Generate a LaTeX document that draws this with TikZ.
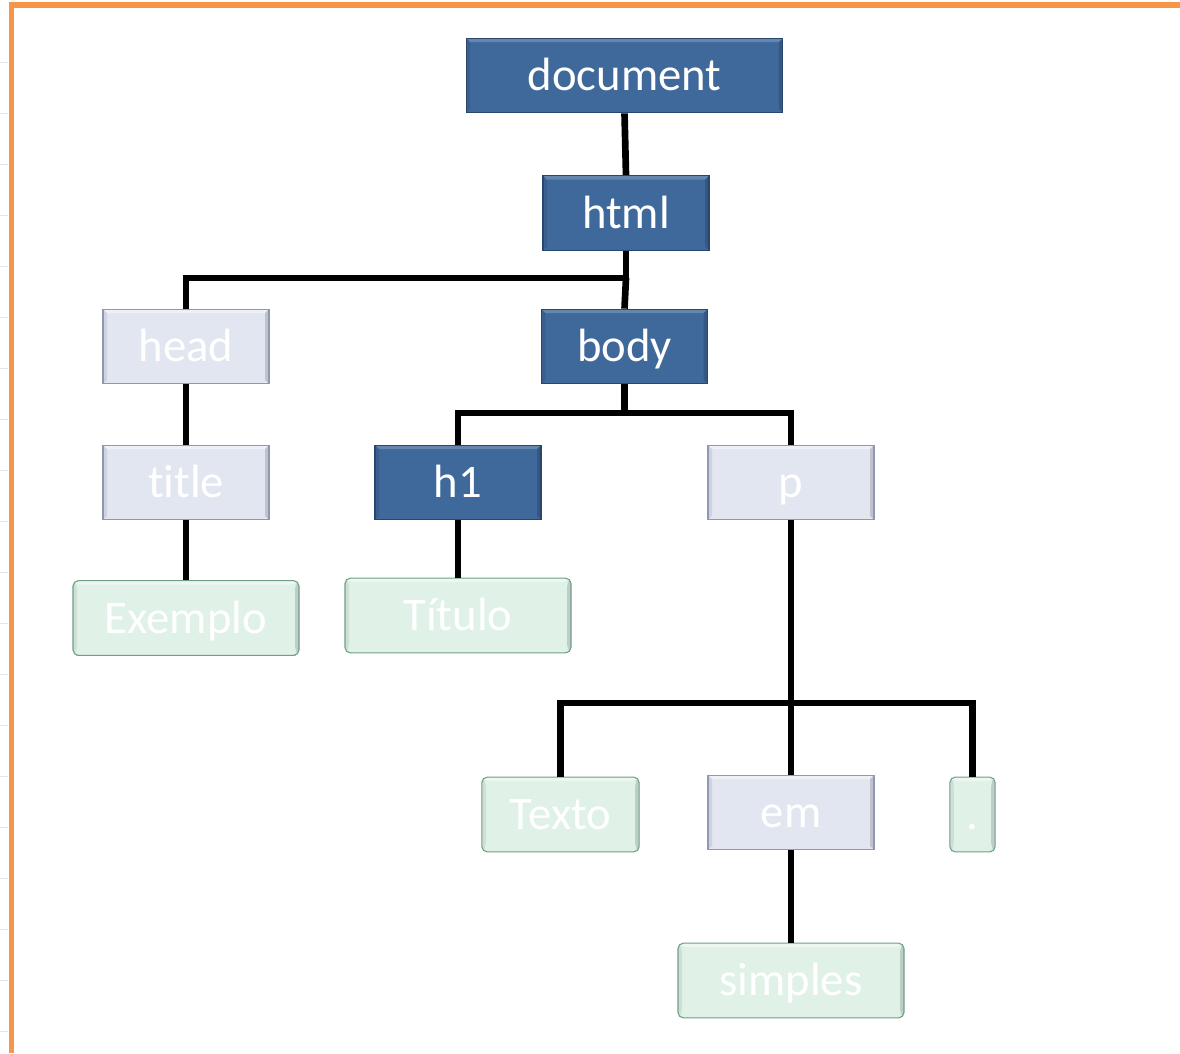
\documentclass[tikz,border=0pt]{standalone}
\usepackage{fontspec}
\setmainfont{Carlito}[Ligatures=NoCommon]
\definecolor{dkblue}{RGB}{63,104,155}
\definecolor{dkedge}{RGB}{40,70,110}
\definecolor{ltgray}{RGB}{226,230,240}
\definecolor{ltedge}{RGB}{140,152,180}
\definecolor{ltbot}{RGB}{160,200,245}
\definecolor{ltgreen}{RGB}{224,242,232}
\definecolor{gredge}{RGB}{110,160,135}
\definecolor{grbot}{RGB}{110,235,190}
\definecolor{border}{RGB}{247,150,70}
\tikzset{
  base/.style={inner sep=0pt, text=white, font=\fontsize{35}{40}\selectfont, minimum height=56pt,
     text height=26pt, text depth=2.8pt, line width=0.8pt},
  bevel/.style={path picture={
     \fill[white,opacity=#1] (path picture bounding box.north west) -- (path picture bounding box.north east)
        -- ([xshift=-3pt,yshift=-3pt]path picture bounding box.north east) -- ([xshift=3pt,yshift=-3pt]path picture bounding box.north west) -- cycle;
     \fill[black,opacity=0.15] (path picture bounding box.north east) -- (path picture bounding box.south east)
        -- ([xshift=-3pt,yshift=3pt]path picture bounding box.south east) -- ([xshift=-3pt,yshift=-3pt]path picture bounding box.north east) -- cycle;
     \fill[black,opacity=0.08] (path picture bounding box.north west) -- (path picture bounding box.south west)
        -- ([xshift=3pt,yshift=3pt]path picture bounding box.south west) -- ([xshift=3pt,yshift=-3pt]path picture bounding box.north west) -- cycle;
  }},
  bluebox/.style={base, fill=dkblue, draw=dkedge, bevel=0.2},
  graybox/.style={base, fill=ltgray, draw=ltedge, bevel=0.4,
     append after command={\pgfextra{\draw[ltbot,line width=1.6pt] ([xshift=1pt,yshift=0.9pt]\tikzlastnode.south west) -- ([xshift=-1pt,yshift=0.9pt]\tikzlastnode.south east);}}},
  greenbox/.style={base, fill=ltgreen, draw=gredge, rounded corners=4pt, bevel=0.4,
     append after command={\pgfextra{\draw[grbot,line width=1.6pt] ([xshift=3pt,yshift=0.9pt]\tikzlastnode.south west) -- ([xshift=-3pt,yshift=0.9pt]\tikzlastnode.south east);}}},
  conn/.style={line width=5pt, black}
}
\begin{document}
\begin{tikzpicture}[x=0.75pt,y=-0.75pt]
\useasboundingbox (0,0) rectangle (1180,1053);
\fill[white] (0,0) rectangle (1180,1053);
% faint grid marks outside frame
\foreach \yy in {62,113,164,215,266,317,368,419,470,521,572,623,674,725,776,827,878,929,980,1031}
  \draw[black!10,line width=0.6pt] (0,\yy) -- (8,\yy);
% orange frame
\draw[border,line width=4pt] (11.5,1053) -- (11.5,5) -- (1180,5);

% nodes
\node[bluebox, minimum width=237.5pt] (document) at (624.5,75.5) {document};
\node[bluebox, minimum width=124.5pt] (html) at (626,213) {html};
\node[graybox, minimum width=124.5pt] (head) at (186,346.5) {head};
\node[bluebox, minimum width=124.5pt] (body) at (624.5,346.5) {body};
\node[graybox, minimum width=124.5pt] (title) at (186,482.5) {title};
\node[bluebox, minimum width=124.5pt] (h1) at (458,482.5) {h1};
\node[graybox, minimum width=124.5pt] (p) at (791,482.5) {p};
\node[greenbox, minimum width=169.5pt] (exemplo) at (186,618) {Exemplo};
\node[greenbox, minimum width=169.5pt] (titulo) at (458,615.5) {Título};
\node[greenbox, minimum width=118pt] (texto) at (560.5,814.5) {Texto};
\node[graybox, minimum width=124.5pt] (em) at (791,812.5) {em};
\node[greenbox, minimum width=34pt] (dot) at (972.5,814.5) {.};
\node[greenbox, minimum width=169.5pt] (simples) at (791,980.5) {simples};

% junctions
\coordinate (j1) at (626,278);
\coordinate (j2) at (624,413);
\coordinate (j3) at (790,703);

% connectors
\draw[conn] (document.south) -- (html.north);
\draw[conn] (html.south) -- (html.south |- j1) -| (head.north);
\draw[conn] (html.south |- j1) -- (body.north);
\draw[conn] (head.south) -- (title.north);
\draw[conn] (title.south) -- (exemplo.north);
\draw[conn] (body.south) -- (body.south |- j2) -| (h1.north);
\draw[conn] (body.south |- j2) -| (p.north);
\draw[conn] (h1.south) -- (titulo.north);
\draw[conn] (p.south) -- (p.south |- j3);
\draw[conn] (p.south |- j3) -| (texto.north);
\draw[conn] (p.south |- j3) -| (dot.north);
\draw[conn] (p.south |- j3) -- (em.north);
\draw[conn] (em.south) -- (simples.north);
\end{tikzpicture}
\end{document}
